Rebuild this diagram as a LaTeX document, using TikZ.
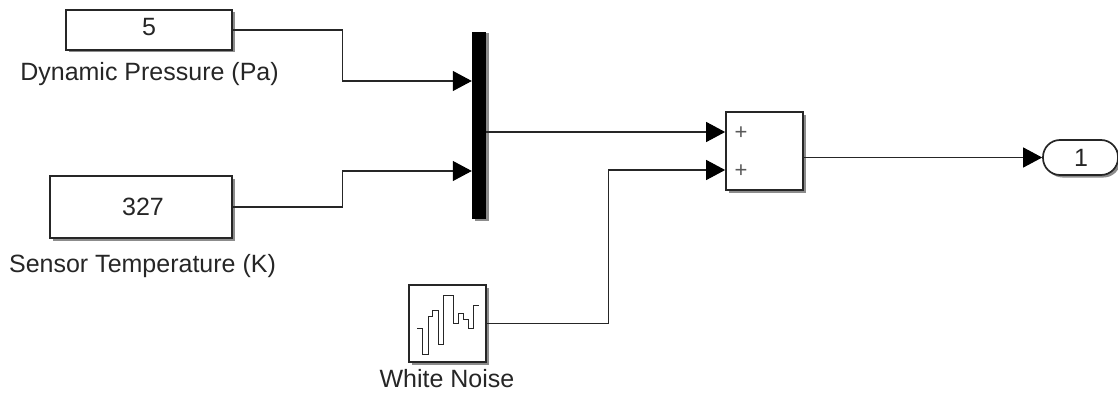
\documentclass[tikz,border=0pt]{standalone}
\usepackage{fontspec}
\setmainfont{Liberation Sans}
\usetikzlibrary{arrows.meta,shadows}
\tikzset{
	block/.style={draw,line width=1.7pt,black!85,fill=white,rectangle,inner sep=0pt,align=center,
		drop shadow={shadow xshift=2.5pt,shadow yshift=-2.5pt,opacity=.45,fill=black}},
	port/.style={block,rounded corners=17pt},
	bar/.style={fill=black,inner sep=0pt,
		drop shadow={shadow xshift=2.5pt,shadow yshift=-1.5pt,opacity=.45,fill=black}},
	caption/.style={anchor=base,inner sep=0pt,text=black!85},
	sign/.style={inner sep=0pt,text=black!65,font=\fontsize{22}{22}\selectfont},
	wire/.style={-{Triangle[length=19pt,width=20pt,color=black]},black!85,line width=1.1pt},
	every node/.append style={font=\fontsize{25}{29}\selectfont}
}
\begin{document}
\begin{tikzpicture}[x=1pt,y=-1pt]
			\useasboundingbox (0,0) rectangle (1118,396);
			\node[block,minimum width=166pt,minimum height=40pt] (pressure) at (149,30) {};
			\node[block,minimum width=182pt,minimum height=62pt] (temperature) at (141,207) {};
			\node[bar,minimum width=14pt,minimum height=187pt] (mux) at (479,125.5) {};
			\node[block,minimum width=77pt,minimum height=78pt] (sum) at (764.5,151) {};
			\node[block,minimum width=77pt,minimum height=77pt] (noise) at (447.5,323.5) {};
			\node[port,minimum width=75pt,minimum height=35pt] (out) at (1080.5,157.5) {};
			
			\node[caption] (pressurevalue) at (149,36) {5};
			\node[caption] (temperaturevalue) at (143,215) {327};
			\node[caption] (outvalue) at (1081,166) {1};
			\node[caption] (pressurename) at (149.5,80) {Dynamic Pressure (Pa)};
			\node[caption] (temperaturename) at (142.5,272) {Sensor Temperature (K)};
			\node[caption] (noisename) at (447,387) {White Noise};
			\node[sign] (plusa) at (741,133) {+};
			\node[sign] (plusb) at (741,171) {+};
			
			\draw[line width=1pt,black!85] (417.3,328.3) -- (422.7,328.3) -- (422.7,354) -- (428,354) -- (428,316)
				-- (432.7,316) -- (432.7,310.7) -- (438,310.7) -- (438,344) -- (443.3,344)
				-- (443.3,295.3) -- (453.3,295.3) -- (453.3,323.3) -- (458.3,323.3) -- (458.3,313.3)
				-- (463.3,313.3) -- (463.3,319) -- (468.3,319) -- (468.3,328.7) -- (473.3,328.7)
				-- (473.3,305.3) -- (479,305.3);
			
			\draw[wire] (pressure.east) -- ++(110,0) |- ([yshift=44.5pt]mux.west);
			\draw[wire] (temperature.east) -- ++(110,0) |- ([yshift=-45.5pt]mux.west);
			\draw[wire] ([yshift=-6.5pt]mux.east) -- ([yshift=19pt]sum.west);
			\draw[wire] (noise.east) -- ++(122,0) |- ([yshift=-19pt]sum.west);
			\draw[wire] (sum.east) ++(0,6.5) -- (out.west);
		\end{tikzpicture}
\end{document}
